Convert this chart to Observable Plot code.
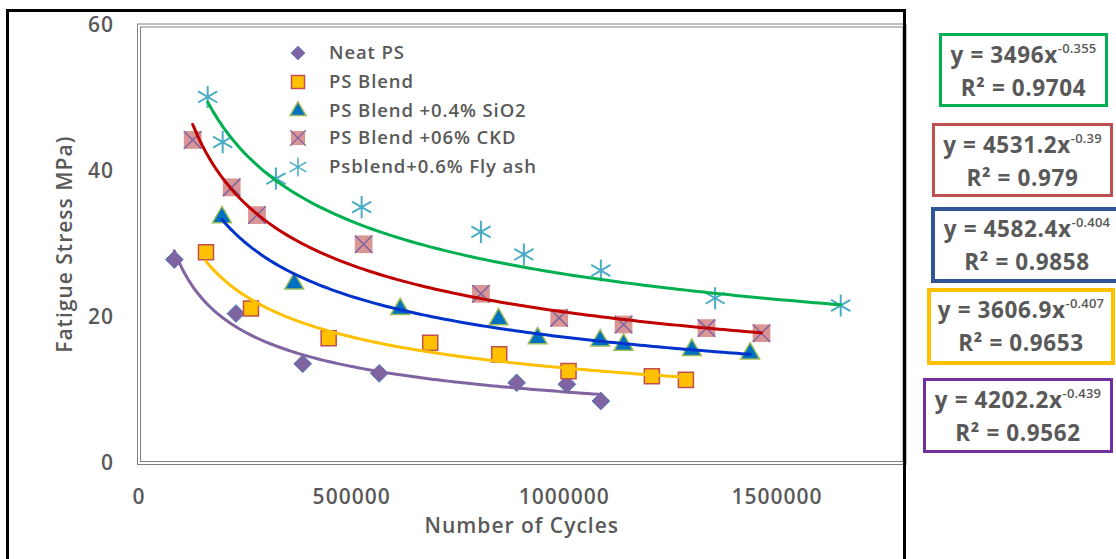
<!DOCTYPE html>
<html><head><meta charset="utf-8">
<script src="https://cdn.jsdelivr.net/npm/d3@7"></script>
<script src="https://cdn.jsdelivr.net/npm/@observablehq/plot@0.6"></script>
<style>
body{margin:0;background:#fff;}
#wrap{position:relative;width:1116px;height:559px;overflow:hidden;background:#fff;font-family:"Open Sans",Lato,sans-serif;}
#chart{position:absolute;left:0;top:0;}
.border{position:absolute;left:6px;top:9px;width:900px;height:620px;border:3px solid #000;box-sizing:border-box;pointer-events:none;}
.eq{position:absolute;box-sizing:border-box;background:#fff;color:#595959;font-weight:700;text-align:center;font-size:22.5px;line-height:30px;white-space:nowrap;letter-spacing:0.6px;}
.eq sup{font-size:13px;font-weight:600;letter-spacing:0.2px;vertical-align:baseline;position:relative;top:-10px;}
.lg{position:absolute;color:#595959;font-weight:600;font-size:18.5px;line-height:20px;white-space:nowrap;letter-spacing:0.9px;}
.lgs{position:absolute;}
</style>
</head><body>
<div id="wrap"></div>
<script>
// ---- data ----
const seriesNames = ["Neat PS", "PS Blend", "PS Blend +0.4% SiO2", "PS Blend +06% CKD", "Psblend+0.6% Fly ash"];
const cyclesNeat  = [83000, 228000, 384800, 564900, 887900, 1006100, 1086000];
const stressNeat  = [27.9, 20.5, 13.6, 12.3, 11.0, 10.8, 8.5];
const cyclesBlend = [157500, 263300, 446000, 684800, 847000, 1010000, 1206000, 1286000];
const stressBlend = [28.9, 21.2, 17.1, 16.5, 14.9, 12.6, 11.9, 11.4];
const cyclesSiO2  = [195100, 365000, 614300, 845500, 937300, 1084400, 1139400, 1300000, 1437000];
const stressSiO2  = [33.7, 24.6, 21.1, 19.7, 17.1, 16.8, 16.2, 15.5, 15.0];
const cyclesCKD   = [126200, 217900, 277400, 528200, 804000, 988000, 1139400, 1334500, 1463800];
const stressCKD   = [44.3, 37.8, 34.0, 30.0, 23.2, 19.9, 19.0, 18.5, 17.8];
const cyclesFly   = [161500, 196800, 322000, 523500, 804000, 905000, 1086000, 1354700, 1650000];
const stressFly   = [50.2, 44.0, 39.0, 35.1, 31.7, 28.6, 26.4, 22.6, 21.6];
// power trendline coefficients y = a x^b (same order as seriesNames)
const trendA  = [4202.2, 3606.9, 4582.4, 4531.2, 3496];
const trendB  = [-0.439, -0.407, -0.404, -0.39, -0.355];
const trendR2 = ["0.9562", "0.9653", "0.9858", "0.979", "0.9704"];
const xTicks = [0, 500000, 1000000, 1500000];
const yTicks = [0, 20, 40, 60];

// ---- styles ----
const trendColors = ["#8064A2", "#FFC000", "#0033CC", "#C00000", "#00B050"];
const boxColors   = ["#7030A0", "#FFC000", "#2F5597", "#C0504D", "#00B050"];

const allCycles = [cyclesNeat, cyclesBlend, cyclesSiO2, cyclesCKD, cyclesFly];
const allStress = [stressNeat, stressBlend, stressSiO2, stressCKD, stressFly];
const pts = allCycles.map((xs, i) => xs.map((x, j) => ({x, y: allStress[i][j], s: seriesNames[i]})));

function trend(i) {
  const xs = allCycles[i], x0 = d3.min(xs), x1 = d3.max(xs);
  return d3.range(0, 121).map(k => { const x = x0 + (x1 - x0) * k / 120; return {x, y: trendA[i] * Math.pow(x, trendB[i])}; });
}

const chart = Plot.plot({
  width: 920, height: 559,
  marginLeft: 138.5, marginRight: 16, marginTop: 25, marginBottom: 96.5,
  style: {fontFamily: "'Open Sans', Lato, sans-serif", color: "#595959", background: "transparent", fontWeight: "600", letterSpacing: "1px", overflow: "visible"},
  x: {domain: [0, 1800000]},
  y: {domain: [0, 60]},
  marks: [
    Plot.frame({stroke: "#808080", strokeWidth: 1, inset: -1.5}),
    Plot.frame({stroke: "#808080", strokeWidth: 1, inset: 1.5}),
    Plot.axisX({ticks: xTicks, tickSize: 0, tickPadding: 26, tickFormat: d => String(d), fontSize: 21, fontWeight: "600",
      label: "Number of Cycles", labelAnchor: "center", labelOffset: 70, labelArrow: "none"}),
    Plot.axisY({ticks: yTicks, tickSize: 0, tickPadding: 25, fontSize: 21, fontWeight: "600",
      label: "Fatigue Stress MPa)", labelAnchor: "center", labelOffset: 82, labelArrow: "none"}),
    Plot.dot(pts[0], {x: "x", y: "y", symbol: "diamond2", r: 8, fill: "#8064A2", stroke: "#4F81BD", strokeWidth: 1}),
    Plot.dot(pts[1], {x: "x", y: "y", symbol: "square", r: 8.5, fill: "#FFC000", stroke: "#C0504D", strokeWidth: 1.5}),
    Plot.dot(pts[2], {x: "x", y: "y", symbol: "triangle", r: 7, fill: "#0070C0", stroke: "#9BBB59", strokeWidth: 1.5}),
    Plot.dot(pts[3], {x: "x", y: "y", symbol: "square", r: 10, fill: "#D99694", stroke: "none"}),
    Plot.dot(pts[3], {x: "x", y: "y", symbol: "times", r: 8, stroke: "#8064A2", strokeWidth: 1.5}),
    Plot.dot(pts[4], {x: "x", y: "y", symbol: "asterisk", r: 10.5, stroke: "#4BACC6", strokeWidth: 2}),
    ...[0, 1, 2, 3, 4].map(i => Plot.line(trend(i), {x: "x", y: "y", stroke: trendColors[i], strokeWidth: 3, curve: "linear"}))
  ]
});
chart.id = "chart";
const wrap = document.getElementById("wrap");
wrap.appendChild(chart);

const border = document.createElement("div");
border.className = "border";
wrap.appendChild(border);

// legend
const legendRows = [53.3, 82.3, 110.7, 138.3, 166.7];
const symDefs = [
  {t: d3.symbolDiamond2, size: 120, fill: "#8064A2", stroke: "#4F81BD", sw: 1},
  {t: d3.symbolSquare, size: 170, fill: "#FFC000", stroke: "#C0504D", sw: 1.5},
  {t: d3.symbolTriangle, size: 110, fill: "#0070C0", stroke: "#9BBB59", sw: 1.5},
  {t: d3.symbolSquare, size: 200, fill: "#D99694", stroke: "none", sw: 0, extra: {t: d3.symbolTimes, size: 160, stroke: "#8064A2", sw: 1.3}},
  {t: d3.symbolAsterisk, size: 260, fill: "none", stroke: "#4BACC6", sw: 1.5}
];
seriesNames.forEach((name, i) => {
  const d = symDefs[i];
  const svg = d3.create("svg").attr("width", 24).attr("height", 24).attr("class", "lgs")
    .style("left", (298 - 12) + "px").style("top", (legendRows[i] - 12) + "px");
  svg.append("path").attr("transform", "translate(12,12)").attr("d", d3.symbol(d.t, d.size)())
    .attr("fill", d.fill).attr("stroke", d.stroke).attr("stroke-width", d.sw);
  if (d.extra) svg.append("path").attr("transform", "translate(12,12)").attr("d", d3.symbol(d.extra.t, d.extra.size)())
    .attr("fill", "none").attr("stroke", d.extra.stroke).attr("stroke-width", d.extra.sw);
  wrap.appendChild(svg.node());
  const t = document.createElement("div");
  t.className = "lg";
  t.style.left = "329px";
  t.style.top = (legendRows[i] - 11) + "px";
  t.textContent = name;
  wrap.appendChild(t);
});

// equation boxes (top to bottom: fly ash, CKD, SiO2, blend, neat)
const boxLayout = [
  {i: 4, left: 939, top: 33, w: 169, h: 74, bw: 3},
  {i: 3, left: 932, top: 123, w: 181, h: 74, bw: 3},
  {i: 2, left: 931, top: 207, w: 192, h: 76, bw: 4},
  {i: 1, left: 927, top: 288, w: 188, h: 77, bw: 4},
  {i: 0, left: 923, top: 378, w: 190, h: 75, bw: 3}
];
boxLayout.forEach(b => {
  const el = document.createElement("div");
  el.className = "eq";
  Object.assign(el.style, {left: b.left + "px", top: b.top + "px", width: b.w + "px", height: b.h + "px",
    border: b.bw + "px solid " + boxColors[b.i], paddingTop: (22 - 15 - b.bw) + "px"});
  const a = trendA[b.i];
  el.innerHTML = "y = " + a + "x<sup>" + trendB[b.i] + "</sup><br>R\u00B2 = " + trendR2[b.i];
  wrap.appendChild(el);
});
</script>
</body></html>
